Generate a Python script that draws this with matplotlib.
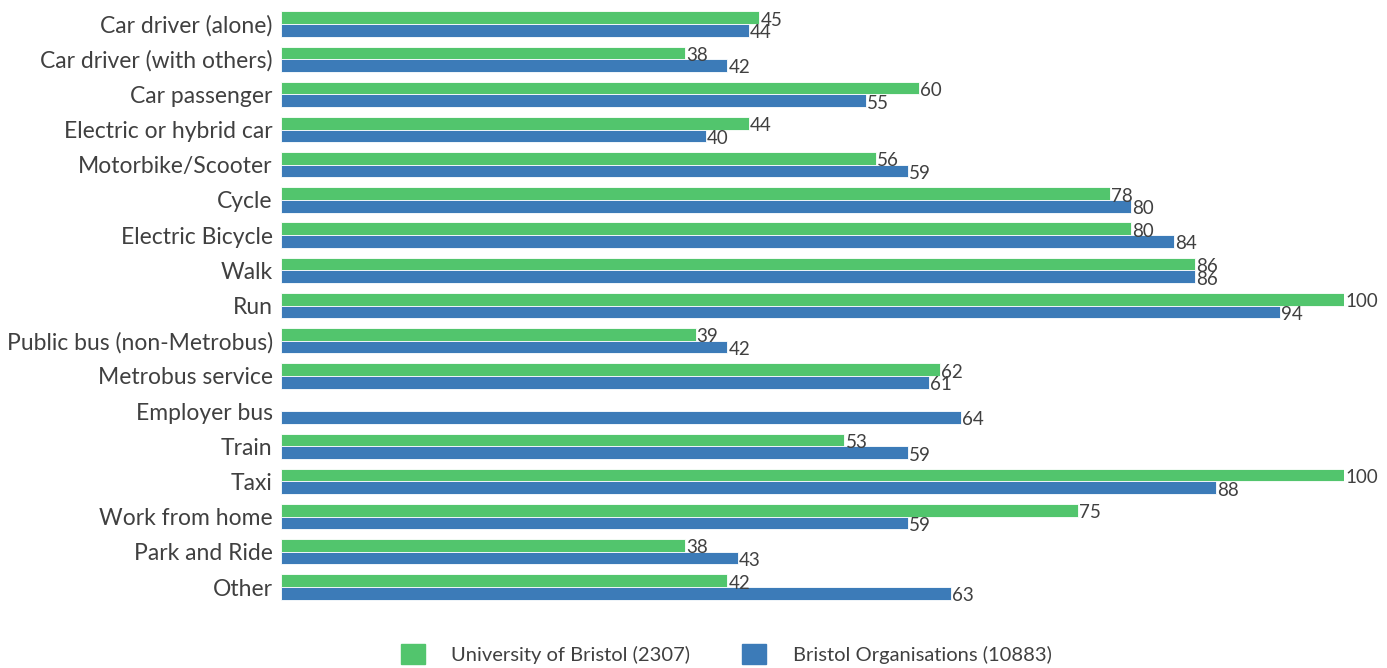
import numpy as np
import matplotlib
matplotlib.use("Agg")
import matplotlib.pyplot as plt
from matplotlib.patches import Patch

categories = ["Car driver (alone)", "Car driver (with others)", "Car passenger",
              "Electric or hybrid car", "Motorbike/Scooter", "Cycle", "Electric Bicycle",
              "Walk", "Run", "Public bus (non-Metrobus)", "Metrobus service", "Employer bus",
              "Train", "Taxi", "Work from home", "Park and Ride", "Other"]
uob = [45, 38, 60, 44, 56, 78, 80, 86, 100, 39, 62, np.nan, 53, 100, 75, 38, 42]
orgs = [44, 42, 55, 40, 59, 80, 84, 86, 94, 42, 61, 64, 59, 88, 59, 43, 63]
series_names = ["University of Bristol (2307)", "Bristol Organisations (10883)"]

green = "#52c56d"
blue = "#3c7bb8"
txt = "#404040"

plt.rcParams['font.family'] = ['Lato', 'DejaVu Sans']

fig = plt.figure(figsize=(13.87, 6.68), dpi=100)
ax = fig.add_axes([281/1387, 1-604.6/668, (1344-281)/1387, (604.6-6.4)/668])

y = np.arange(len(categories))
h = 0.36
ax.barh(y - h/2, uob, height=h, color=green, edgecolor="white", linewidth=0.6)
ax.barh(y + h/2, orgs, height=h, color=blue, edgecolor="white", linewidth=0.6)

for i, (a, b) in enumerate(zip(uob, orgs)):
    if not np.isnan(a):
        ax.text(a + 0.1, i - h/2 + 0.07, f"{int(a)}", va="center", ha="left", fontsize=13.5, color=txt)
    ax.text(b + 0.1, i + h/2 + 0.07, f"{int(b)}", va="center", ha="left", fontsize=13.5, color=txt)

ax.set_xlim(0, 100)
ax.set_ylim(len(categories) - 0.5, -0.5)
ax.set_yticks(y)
ax.set_yticklabels(categories, fontsize=16.5, color=txt)
ax.tick_params(axis="y", length=0, pad=6)
ax.set_xticks([])
for s in ax.spines.values():
    s.set_visible(False)

handles = [Patch(color=green), Patch(color=blue)]
leg = fig.legend(handles, series_names, loc="center", bbox_to_anchor=(726/1387, 1-654/668),
                 ncol=2, frameon=False, fontsize=14.5, handlelength=1.2, handleheight=1.2,
                 columnspacing=2.6, handletextpad=1.3)
for t in leg.get_texts():
    t.set_color(txt)

fig.savefig("out.png", dpi=100)
